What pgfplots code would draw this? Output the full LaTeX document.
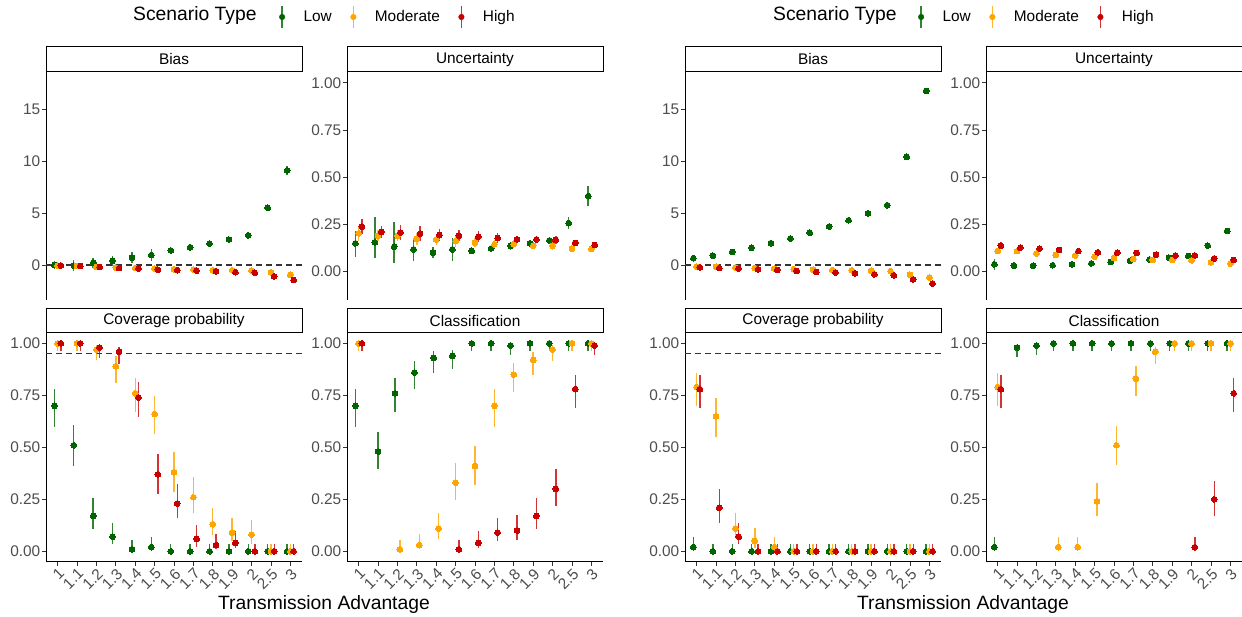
\documentclass[border=0pt]{standalone}
\usepackage{fontspec}
\setmainfont{Liberation Sans}
\usepackage{pgfplots}
\usepackage{pgfplotstable}
\pgfplotsset{compat=1.18}
\definecolor{cG}{HTML}{006400}
\definecolor{cO}{HTML}{FFA500}
\definecolor{cR}{HTML}{C80000}
\definecolor{tk}{HTML}{4D4D4D}
\newcommand\fs{\fontsize{15.4}{18}\selectfont}
\newcommand\fl{\fontsize{19.3}{22}\selectfont}

% ---------------- data: left panel ----------------
\pgfplotstableread{
c gy gp gm oy op om ry rp rm
1 0.00 0.35 0.35 -0.05 0.15 0.15 -0.05 0.15 0.15
2 -0.05 0.50 0.50 -0.10 0.15 0.15 -0.10 0.15 0.15
3 0.20 0.50 0.50 -0.20 0.15 0.15 -0.20 0.15 0.15
4 0.40 0.50 0.50 -0.25 0.15 0.15 -0.30 0.15 0.15
5 0.70 0.50 0.50 -0.30 0.15 0.15 -0.35 0.15 0.15
6 0.95 0.55 0.55 -0.35 0.15 0.15 -0.45 0.15 0.15
7 1.40 0.20 0.20 -0.40 0.15 0.15 -0.50 0.15 0.15
8 1.70 0.20 0.20 -0.45 0.15 0.15 -0.55 0.15 0.15
9 2.05 0.35 0.35 -0.50 0.15 0.15 -0.60 0.15 0.15
10 2.45 0.20 0.20 -0.50 0.15 0.15 -0.70 0.15 0.15
11 2.85 0.20 0.20 -0.55 0.15 0.15 -0.75 0.15 0.15
12 5.50 0.25 0.25 -0.70 0.15 0.15 -1.10 0.15 0.15
13 9.10 0.40 0.40 -0.95 0.15 0.15 -1.45 0.15 0.15
}\tLB
\pgfplotstableread{
c gy gp gm oy op om ry rp rm
1 0.150 0.067 0.070 0.203 0.040 0.040 0.238 0.040 0.040
2 0.155 0.135 0.085 0.190 0.030 0.030 0.210 0.030 0.030
3 0.132 0.133 0.084 0.190 0.030 0.030 0.207 0.040 0.040
4 0.118 0.062 0.062 0.173 0.030 0.030 0.200 0.040 0.040
5 0.100 0.030 0.030 0.170 0.030 0.030 0.194 0.030 0.030
6 0.118 0.060 0.060 0.162 0.030 0.030 0.190 0.030 0.030
7 0.110 0.012 0.012 0.153 0.025 0.025 0.185 0.030 0.030
8 0.123 0.015 0.015 0.145 0.020 0.020 0.178 0.025 0.025
9 0.137 0.022 0.022 0.146 0.020 0.020 0.171 0.020 0.020
10 0.150 0.015 0.015 0.137 0.015 0.015 0.171 0.020 0.020
11 0.165 0.017 0.017 0.137 0.020 0.020 0.168 0.020 0.020
12 0.257 0.030 0.030 0.122 0.010 0.010 0.152 0.015 0.015
13 0.400 0.055 0.055 0.120 0.010 0.010 0.141 0.010 0.010
}\tLU
\pgfplotstableread{
c gy gp gm oy op om ry rp rm
1 0.70 0.080 0.100 1.00 0.000 0.036 1.00 0.000 0.036
2 0.51 0.097 0.100 1.00 0.000 0.036 1.00 0.000 0.036
3 0.17 0.085 0.064 0.97 0.020 0.050 0.98 0.017 0.050
4 0.07 0.068 0.036 0.89 0.050 0.080 0.96 0.025 0.060
5 0.01 0.045 0.010 0.76 0.073 0.092 0.74 0.075 0.096
6 0.02 0.050 0.020 0.66 0.085 0.097 0.37 0.097 0.092
7 0.00 0.037 0.000 0.38 0.098 0.097 0.23 0.093 0.071
8 0.00 0.037 0.000 0.26 0.095 0.077 0.06 0.065 0.039
9 0.00 0.037 0.000 0.13 0.080 0.053 0.03 0.055 0.020
10 0.00 0.037 0.000 0.09 0.072 0.040 0.04 0.058 0.026
11 0.00 0.037 0.000 0.08 0.070 0.043 0.00 0.037 0.000
12 0.00 0.037 0.000 0.00 0.037 0.000 0.00 0.037 0.000
13 0.00 0.037 0.000 0.00 0.037 0.000 0.00 0.037 0.000
}\tLC
\pgfplotstableread{
c dg gy gp gm do oy op om dr ry rp rm
1 -0.1667 0.70 0.080 0.100 0 1.00 0.000 0.036 0.1667 1.00 0.000 0.036
2 0 0.48 0.096 0.085 0 nan 0 0 0 nan 0 0
3 -0.125 0.76 0.073 0.092 0.125 0.01 0.043 0.010 0 nan 0 0
4 -0.125 0.86 0.053 0.080 0.125 0.03 0.052 0.020 0 nan 0 0
5 -0.125 0.93 0.034 0.070 0.125 0.11 0.076 0.049 0 nan 0 0
6 -0.1667 0.94 0.030 0.064 0 0.33 0.097 0.084 0.1667 0.01 0.043 0.010
7 -0.1667 1.00 0.000 0.036 0 0.41 0.097 0.092 0.1667 0.04 0.058 0.026
8 -0.1667 1.00 0.000 0.036 0 0.70 0.080 0.100 0.1667 0.09 0.072 0.040
9 -0.1667 0.99 0.007 0.044 0 0.85 0.055 0.086 0.1667 0.10 0.073 0.046
10 -0.1667 1.00 0.000 0.036 0 0.92 0.037 0.070 0.1667 0.17 0.085 0.064
11 -0.1667 1.00 0.000 0.036 0 0.97 0.020 0.054 0.1667 0.30 0.095 0.082
12 -0.1667 1.00 0.000 0.036 0 1.00 0.000 0.036 0.1667 0.78 0.070 0.090
13 -0.1667 1.00 0.000 0.036 0 1.00 0.000 0.036 0.1667 0.99 0.007 0.044
}\tLK
% ---------------- data: right panel ----------------
\pgfplotstableread{
c gy gp gm oy op om ry rp rm
1 0.65 0.06 0.06 -0.16 0.05 0.05 -0.23 0.05 0.05
2 0.90 0.06 0.06 -0.16 0.05 0.05 -0.30 0.05 0.05
3 1.25 0.06 0.06 -0.23 0.05 0.05 -0.35 0.05 0.05
4 1.65 0.06 0.06 -0.30 0.05 0.05 -0.42 0.05 0.05
5 2.10 0.06 0.06 -0.35 0.05 0.05 -0.48 0.05 0.05
6 2.55 0.06 0.06 -0.40 0.05 0.05 -0.58 0.05 0.05
7 3.10 0.06 0.06 -0.45 0.05 0.05 -0.68 0.05 0.05
8 3.70 0.06 0.06 -0.50 0.05 0.05 -0.74 0.05 0.05
9 4.30 0.06 0.06 -0.52 0.05 0.05 -0.80 0.05 0.05
10 4.97 0.06 0.06 -0.55 0.05 0.05 -0.90 0.05 0.05
11 5.74 0.06 0.06 -0.60 0.05 0.05 -1.00 0.05 0.05
12 10.40 0.08 0.08 -0.95 0.05 0.05 -1.39 0.05 0.05
13 16.74 0.10 0.10 -1.20 0.05 0.05 -1.80 0.05 0.05
}\tRB
\pgfplotstableread{
c gy gp gm oy op om ry rp rm
1 0.039 0.030 0.030 0.109 0.015 0.015 0.138 0.020 0.020
2 0.032 0.020 0.020 0.109 0.015 0.015 0.127 0.015 0.015
3 0.032 0.015 0.015 0.097 0.012 0.012 0.122 0.012 0.012
4 0.034 0.008 0.008 0.088 0.010 0.010 0.115 0.010 0.010
5 0.039 0.008 0.008 0.085 0.010 0.010 0.109 0.010 0.010
6 0.044 0.008 0.008 0.079 0.010 0.010 0.102 0.010 0.010
7 0.051 0.008 0.008 0.072 0.008 0.008 0.100 0.008 0.008
8 0.058 0.008 0.008 0.067 0.008 0.008 0.099 0.008 0.008
9 0.065 0.008 0.008 0.062 0.008 0.008 0.090 0.008 0.008
10 0.074 0.008 0.008 0.062 0.008 0.008 0.085 0.008 0.008
11 0.083 0.008 0.008 0.060 0.008 0.008 0.086 0.008 0.008
12 0.138 0.008 0.008 0.049 0.008 0.008 0.070 0.008 0.008
13 0.215 0.012 0.012 0.042 0.006 0.006 0.062 0.006 0.006
}\tRU
\pgfplotstableread{
c gy gp gm oy op om ry rp rm
1 0.02 0.050 0.020 0.79 0.067 0.090 0.78 0.070 0.093
2 0.00 0.037 0.000 0.65 0.085 0.098 0.21 0.090 0.072
3 0.00 0.037 0.000 0.11 0.076 0.044 0.07 0.068 0.036
4 0.00 0.037 0.000 0.05 0.060 0.032 0.00 0.037 0.000
5 0.00 0.037 0.000 0.02 0.050 0.020 0.00 0.037 0.000
6 0.00 0.037 0.000 0.00 0.037 0.000 0.00 0.037 0.000
7 0.00 0.037 0.000 0.00 0.037 0.000 0.00 0.037 0.000
8 0.00 0.037 0.000 0.00 0.037 0.000 0.00 0.037 0.000
9 0.00 0.037 0.000 0.00 0.037 0.000 0.00 0.037 0.000
10 0.00 0.037 0.000 0.00 0.037 0.000 0.00 0.037 0.000
11 0.00 0.037 0.000 0.00 0.037 0.000 0.00 0.037 0.000
12 0.00 0.037 0.000 0.00 0.037 0.000 0.00 0.037 0.000
13 0.00 0.037 0.000 0.00 0.037 0.000 0.00 0.037 0.000
}\tRC
\pgfplotstableread{
c dg gy gp gm do oy op om dr ry rp rm
1 -0.1667 0.02 0.050 0.020 0 0.79 0.070 0.090 0.1667 0.78 0.070 0.090
2 0 0.98 0.004 0.047 0 nan 0 0 0 nan 0 0
3 0 0.99 0.007 0.044 0 nan 0 0 0 nan 0 0
4 -0.125 1.00 0.000 0.036 0.125 0.02 0.050 0.020 0 nan 0 0
5 -0.125 1.00 0.000 0.036 0.125 0.02 0.050 0.020 0 nan 0 0
6 -0.125 1.00 0.000 0.036 0.125 0.24 0.090 0.070 0 nan 0 0
7 -0.125 1.00 0.000 0.036 0.125 0.51 0.095 0.095 0 nan 0 0
8 -0.125 1.00 0.000 0.036 0.125 0.83 0.060 0.085 0 nan 0 0
9 -0.125 1.00 0.000 0.036 0.125 0.96 0.025 0.060 0 nan 0 0
10 -0.125 1.00 0.000 0.036 0.125 1.00 0.000 0.036 0 nan 0 0
11 -0.1667 1.00 0.000 0.036 0 1.00 0.000 0.036 0.1667 0.02 0.050 0.020
12 -0.1667 1.00 0.000 0.036 0 1.00 0.000 0.036 0.1667 0.25 0.090 0.080
13 -0.1667 1.00 0.000 0.036 0 1.00 0.000 0.036 0.1667 0.76 0.075 0.090
}\tRK

\pgfplotsset{
  pr/.style={forget plot, only marks, mark=*, mark size=2.9pt, color=#1,
    mark options={solid, fill=#1, draw=#1, line width=0pt},
    error bars/y dir=both, error bars/y explicit, error bars/error mark=none,
    error bars/error bar style={line width=1.4pt, color=#1, opacity=0.8, solid}},
  refl/.style={forget plot, color=black!80, line width=1.1pt, dash pattern=on 5.5pt off 4.5pt},
  facet/.style={scale only axis, width=256pt, anchor=north west,
    xmin=0.4, xmax=13.6, xtick={1,...,13},
    axis y line*=left, axis line style={line width=0.9pt, black},
    tick align=outside, major tick length=4pt,
    tick style={line width=0.9pt, black!80},
    yticklabel style={font=\fs, text=tk, inner sep=1.5pt},
    every axis title shift=0pt,
    title style={at={(0.5,1)}, anchor=south, yshift=0pt, draw=black, line width=0.9pt,
      minimum width=256pt, inner sep=0pt, font=\fs}},
  topf/.style={facet, height=228pt, axis x line=none,
    title style={minimum height=25pt}},
  botf/.style={facet, height=228.7pt, axis x line*=bottom,
    title style={minimum height=24pt},
    ymin=-0.05, ymax=1.05, ytick={0,0.25,0.5,0.75,1},
    yticklabels={0.00,0.25,0.50,0.75,1.00},
    xticklabels={1,1.1,1.2,1.3,1.4,1.5,1.6,1.7,1.8,1.9,2,2.5,3},
    xticklabel style={font=\fs, text=tk, rotate=45, anchor=north east, inner sep=1pt}},
  biasf/.style={topf, ymin=-3.37, ymax=18.56, ytick={0,5,10,15}, yticklabels={0,5,10,15}, title=Bias},
  uncf/.style={topf, ymin=-0.15, ymax=1.057, ytick={0,0.25,0.5,0.75,1},
    yticklabels={0.00,0.25,0.50,0.75,1.00}, title=Uncertainty},
  legf/.style={legend style={at={(axis description cs:0.9098,1.2412)}, anchor=west,
    draw=none, fill=none, inner sep=0pt, font=\fs, legend columns=-1,
    /tikz/every odd column/.append style={column sep=16.5pt},
    /tikz/every even column/.append style={column sep=16.5pt}},
    legend cell align=left},
}
\newcommand\legimg[1]{\addlegendimage{legend image code/.code={%
  \draw[#1, line width=1.4pt, opacity=0.8] (0pt,-11pt) -- (0pt,11pt);
  \fill[#1] (0pt,0pt) circle (2.8pt);}}}
\newcommand\three[1]{%
  \addplot[pr=cG] table[x expr=\thisrow{c}-0.1667, y=gy, y error plus=gp, y error minus=gm]{#1};
  \addplot[pr=cO] table[x expr=\thisrow{c}, y=oy, y error plus=op, y error minus=om]{#1};
  \addplot[pr=cR] table[x expr=\thisrow{c}+0.1667, y=ry, y error plus=rp, y error minus=rm]{#1};}
\newcommand\threed[1]{%
  \addplot[pr=cG] table[x expr=\thisrow{c}+\thisrow{dg}, y=gy, y error plus=gp, y error minus=gm]{#1};
  \addplot[pr=cO] table[x expr=\thisrow{c}+\thisrow{do}, y=oy, y error plus=op, y error minus=om]{#1};
  \addplot[pr=cR] table[x expr=\thisrow{c}+\thisrow{dr}, y=ry, y error plus=rp, y error minus=rm]{#1};}

\begin{document}
\begin{tikzpicture}
\path[use as bounding box] (0,0) rectangle (1242pt,-617pt);

% ===== LEFT PANEL =====
\begin{axis}[biasf, legf, at={(46pt,-72pt)}]
  \legimg{cG}\addlegendentry{Low}
  \legimg{cO}\addlegendentry{Moderate}
  \legimg{cR}\addlegendentry{High}
  \addplot[refl] coordinates {(0.4,0) (13.6,0)};
  \three{\tLB}
\end{axis}
\begin{axis}[uncf, at={(347pt,-72pt)}]
  \three{\tLU}
\end{axis}
\begin{axis}[botf, title=Coverage probability, at={(46pt,-333pt)}]
  \addplot[refl] coordinates {(0.4,0.95) (13.6,0.95)};
  \three{\tLC}
\end{axis}
\begin{axis}[botf, title=Classification, at={(347pt,-333pt)}]
  \threed{\tLK}
\end{axis}
\node[anchor=west, font=\fl, inner sep=0pt] at (133pt,-16pt) {Scenario Type};
\node[font=\fl, inner sep=0pt] at (324pt,-605pt) {Transmission Advantage};

% ===== RIGHT PANEL =====
\begin{axis}[biasf, legf, at={(685pt,-72pt)}]
  \legimg{cG}\addlegendentry{Low}
  \legimg{cO}\addlegendentry{Moderate}
  \legimg{cR}\addlegendentry{High}
  \addplot[refl] coordinates {(0.4,0) (13.6,0)};
  \three{\tRB}
\end{axis}
\begin{axis}[uncf, at={(986pt,-72pt)}]
  \three{\tRU}
\end{axis}
\begin{axis}[botf, title=Coverage probability, at={(685pt,-333pt)}]
  \addplot[refl] coordinates {(0.4,0.95) (13.6,0.95)};
  \three{\tRC}
\end{axis}
\begin{axis}[botf, title=Classification, at={(986pt,-333pt)}]
  \threed{\tRK}
\end{axis}
\node[anchor=west, font=\fl, inner sep=0pt] at (773pt,-16pt) {Scenario Type};
\node[font=\fl, inner sep=0pt] at (963pt,-605pt) {Transmission Advantage};
\end{tikzpicture}
\end{document}
